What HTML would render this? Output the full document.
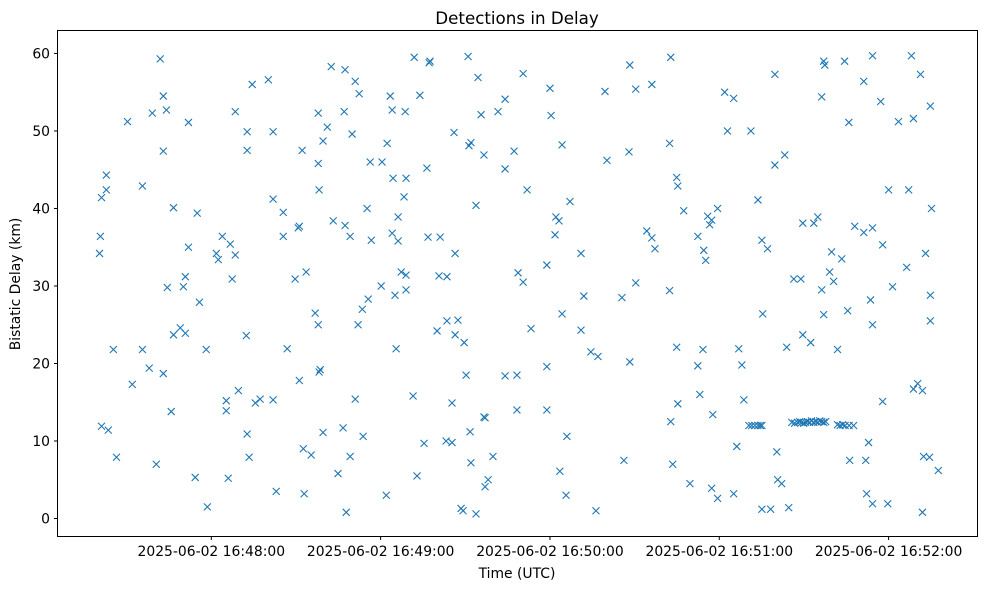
<!DOCTYPE html>
<html><head><meta charset="utf-8"><style>
body{margin:0;background:#fff;font-family:"Liberation Sans","DejaVu Sans",sans-serif;}
svg text{font-family:"DejaVu Sans","Liberation Sans",sans-serif;}
</style></head><body>
<svg id="chart" width="989" height="590" xmlns="http://www.w3.org/2000/svg">
<rect width="989" height="590" fill="#fff"/>
<text x="517" y="24" text-anchor="middle" font-size="16.7">Detections in Delay</text>
<text x="517" y="578" text-anchor="middle" font-size="13.9">Time (UTC)</text>
<text transform="translate(20,284) rotate(-90)" text-anchor="middle" font-size="13.9">Bistatic Delay (km)</text>
<g id="marks"></g>
<g id="axes"></g>
<rect x="57.5" y="30.5" width="920" height="506" fill="none" stroke="#000" stroke-width="1"/>
</svg>
<script>
// seconds since 16:47:00
const times = [20.4,20.7,21.1,22.8,22.8,21.1,23.5,25.3,26.4,30.3,32.0,35.6,35.6,38.0,39.1,40.5,41.9,43.0,44.1,43.0,43.0,44.4,45.8,46.6,46.6,49.0,50.1,50.8,50.8,51.9,51.9,54.3,55.0,55.8,58.2,58.6,61.8,62.5,63.9,65.3,65.3,66.0,66.7,67.4,68.5,68.5,69.6,72.4,72.7,73.4,72.7,72.7,74.5,75.6,77.3,80.2,81.9,81.9,81.9,83.0,85.5,86.9,85.5,89.7,90.8,91.2,92.2,91.2,92.6,93.6,92.9,95.4,96.8,97.9,97.9,98.2,97.9,98.6,98.2,99.6,99.6,101.1,102.5,103.2,104.9,106.7,107.1,107.4,107.4,107.8,109.2,109.2,109.9,111.0,111.0,112.4,112.0,113.5,113.8,115.6,115.2,116.3,116.7,120.2,120.5,122.3,122.0,123.4,124.1,124.1,124.4,125.1,125.5,126.2,126.2,127.3,128.3,128.7,129.0,129.0,129.0,131.5,132.9,131.9,133.9,135.4,136.4,136.8,137.2,137.5,140.0,141.1,140.7,143.2,143.5,143.5,145.3,145.3,146.0,146.4,146.4,147.4,148.5,149.2,149.6,150.3,151.0,151.3,152.0,151.7,152.0,153.8,153.8,154.5,155.6,156.6,156.6,157.0,157.0,158.1,159.8,161.6,164.1,164.1,164.1,167.3,168.3,168.3,168.7,170.5,170.5,171.9,173.3,178.9,178.9,178.9,180.0,180.4,181.8,182.1,183.2,183.5,184.3,184.3,185.7,186.0,187.1,191.0,191.0,192.0,194.5,196.3,197.0,199.5,200.2,205.5,206.2,208.0,208.3,208.3,210.4,210.4,214.3,216.1,216.1,217.2,222.8,222.4,222.4,222.8,223.5,224.9,224.9,225.3,225.3,227.4,229.6,232.4,232.4,233.1,234.2,234.5,235.2,235.9,236.6,237.3,237.7,237.3,239.4,239.4,241.9,242.9,245.1,245.1,246.2,246.9,248.0,248.7,251.2,253.7,255.1,255.4,255.1,257.1,258.2,259.7,259.7,260.4,260.7,262.1,263.2,263.9,264.6,266.4,268.9,269.6,269.6,272.4,273.5,274.9,276.3,277.0,277.4,276.3,277.0,279.1,279.8,280.5,281.9,283.4,284.4,285.5,285.9,286.2,288.0,291.2,291.2,291.9,292.2,292.9,293.6,294.3,294.3,294.3,294.3,297.2,297.9,297.9,299.7,300.0,301.4,303.5,306.4,307.1,308.1,308.8,308.8,310.3,311.3,312.0,312.4,313.1,314.5,314.8,314.8,314.8,315.2,312.0,317.6,
250.5,251.5,252.6,253.7,254.5,255.1,
265.7,266.7,267.8,268.5,269.2,269.9,270.6,271.3,272.0,272.7,273.5,274.2,274.9,275.6,276.3,277.0,277.7,
281.9,282.8,283.7,284.6,286.0,287.6];
const delays = [34.2,36.4,41.4,44.3,42.4,11.9,11.4,21.8,7.9,51.2,17.3,42.9,21.8,19.4,52.3,7.0,59.3,54.5,52.7,47.4,18.7,29.8,13.8,40.1,23.7,24.6,29.9,31.2,23.9,35.0,51.1,5.3,39.4,27.9,21.8,1.5,34.2,33.4,36.4,15.2,13.9,5.2,35.4,30.9,52.5,34.0,16.5,23.6,10.9,7.9,49.9,47.5,56.0,14.9,15.4,56.6,49.9,41.2,15.3,3.5,39.5,21.9,36.4,30.9,37.5,37.7,47.5,17.8,9.0,31.8,3.2,8.2,26.5,52.3,45.8,42.4,25.0,19.2,18.9,48.7,11.1,50.5,58.3,38.4,5.8,11.7,52.5,57.9,37.8,0.8,36.4,8.0,49.6,56.4,15.4,54.8,25.0,27.0,10.6,28.3,40.0,46.0,35.9,30.0,46.0,48.4,3.0,54.5,52.7,36.8,43.9,28.8,21.9,38.9,35.8,31.8,41.5,52.5,31.4,29.5,43.9,15.8,5.5,59.5,54.6,9.7,45.2,36.3,58.8,59.0,24.2,36.3,31.3,10.0,31.2,25.5,14.9,9.8,49.8,23.7,34.2,25.6,1.3,1.0,22.7,18.5,59.6,48.1,48.5,11.2,7.2,0.6,40.4,56.9,52.1,13.1,46.9,13.0,4.1,5.0,8.0,52.5,45.1,54.1,18.4,47.4,18.5,14.0,31.7,57.4,30.5,42.4,24.5,32.7,19.6,14.0,55.5,52.0,36.6,38.9,38.4,6.1,26.4,48.2,3.0,10.6,40.9,34.2,24.3,28.7,21.5,1.0,20.9,55.1,46.2,28.5,7.5,47.3,58.5,20.2,55.4,30.4,37.1,56.0,36.2,34.8,59.5,48.4,29.4,12.5,7.0,44.0,22.1,42.9,14.8,39.7,4.5,36.4,19.7,16.0,21.8,34.6,33.3,39.0,37.9,38.5,13.4,3.9,40.0,2.6,55.0,50.0,54.2,3.2,9.3,21.9,19.8,15.3,50.0,41.1,35.9,26.4,1.2,34.8,1.2,57.3,45.6,8.6,5.0,4.5,46.9,22.1,1.4,30.9,30.9,38.1,23.7,22.7,38.1,38.9,29.5,59.0,58.5,54.4,26.3,31.8,34.4,30.6,21.8,33.5,59.0,26.8,51.1,7.5,37.7,56.4,36.9,7.5,3.2,9.8,28.2,37.5,59.7,25.0,1.9,53.8,35.3,15.1,1.9,42.4,29.9,51.2,32.4,42.4,59.7,51.6,16.7,17.4,57.3,16.5,8.0,34.2,7.9,53.2,28.8,25.5,40.0,0.8,6.2,
12.0,12.0,12.0,12.0,12.0,12.0,
12.4,12.3,12.4,12.5,12.4,12.3,12.4,12.5,12.4,12.6,12.4,12.5,12.4,12.6,12.5,12.4,12.5,
12.1,12.0,12.1,12.0,12.0,12.0];
const xTickValues = [60,120,180,240,300];
const xTickLabels = ["2025-06-02 16:48:00","2025-06-02 16:49:00","2025-06-02 16:50:00","2025-06-02 16:51:00","2025-06-02 16:52:00"];
const yTickValues = [0,10,20,30,40,50,60];

const X0=57.5,X1=977.5,Y0=536.5,Y1=30.5;
const tMin=5.5,tMax=331.5,dMin=-2.32,dMax=62.96;
function xs(t){return X0+(t-tMin)/(tMax-tMin)*(X1-X0);}
function ys(d){return Y0-(d-dMin)/(dMax-dMin)*(Y0-Y1);}
const NS="http://www.w3.org/2000/svg";
const marks=document.getElementById('marks');
const n=Math.min(times.length,delays.length);
for(let i=0;i<n;i++){
  const cx=xs(times[i]),cy=ys(delays[i]);
  const p=document.createElementNS(NS,'path');
  p.setAttribute('d',`M${cx-3.5},${cy-3.5}L${cx+3.5},${cy+3.5}M${cx-3.5},${cy+3.5}L${cx+3.5},${cy-3.5}`);
  p.setAttribute('stroke','#1f77b4');p.setAttribute('stroke-width','1.1');p.setAttribute('fill','none');
  
  
  marks.appendChild(p);
}
const axes=document.getElementById('axes');
xTickValues.forEach((v,i)=>{
  const x=xs(v);
  const l=document.createElementNS(NS,'line');
  l.setAttribute('x1',x);l.setAttribute('x2',x);l.setAttribute('y1',536.5);l.setAttribute('y2',540);l.setAttribute('stroke','#000');
  
  
  axes.appendChild(l);
  const t=document.createElementNS(NS,'text');
  t.setAttribute('x',x);t.setAttribute('y',556);t.setAttribute('text-anchor','middle');t.setAttribute('font-size','13.9');
  t.textContent=xTickLabels[i];
  
  
  axes.appendChild(t);
});
yTickValues.forEach(v=>{
  const y=ys(v);
  const l=document.createElementNS(NS,'line');
  l.setAttribute('x1',54);l.setAttribute('x2',57.5);l.setAttribute('y1',y);l.setAttribute('y2',y);l.setAttribute('stroke','#000');
  
  
  axes.appendChild(l);
  const t=document.createElementNS(NS,'text');
  t.setAttribute('x',50);t.setAttribute('y',y+5);t.setAttribute('text-anchor','end');t.setAttribute('font-size','13.9');
  t.textContent=String(v);
  
  
  axes.appendChild(t);
});
</script>
</body></html>
